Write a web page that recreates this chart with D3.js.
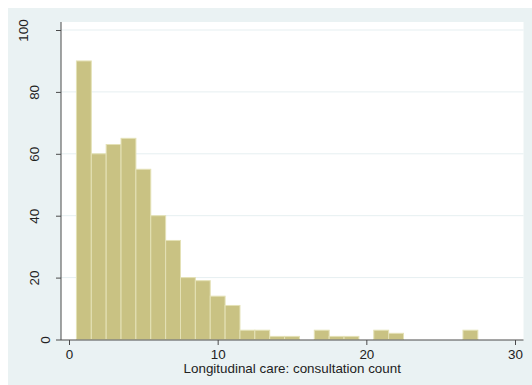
<!DOCTYPE html>
<html>
<head>
<meta charset="utf-8">
<script src="https://cdn.jsdelivr.net/npm/d3@7"></script>
<style>
  body { margin: 0; background: #fff; }
  text { font-family: "Liberation Sans", Arial, sans-serif; }
</style>
</head>
<body>
<div id="chart"></div>
<script>
// bin centres (consultation count) and frequencies
const binCentres = [1, 2, 3, 4, 5, 6, 7, 8, 9, 10, 11, 12, 13, 14, 15, 16, 17, 18, 19, 20, 21, 22, 23, 24, 25, 26, 27];
const frequencies = [90, 60, 63, 65, 55, 40, 32, 20, 19, 14, 11, 3, 3, 1, 1, 0, 3, 1, 1, 0, 3, 2, 0, 0, 0, 0, 3];
const xTicks = [0, 10, 20, 30];
const yTicks = [0, 20, 40, 60, 80, 100];
const xTitle = "Longitudinal care: consultation count";
const binWidth = 1;

const W = 532, H = 385;
const plot = { left: 61, right: 523.5, top: 22, bottom: 340 };

const svg = d3.select("#chart").append("svg")
  .attr("width", W).attr("height", H);

// outer (graph) background
svg.append("rect").attr("x", 8).attr("y", 8).attr("width", W - 8).attr("height", H - 8)
  .attr("fill", "#eaf2f3");
// plot region
svg.append("rect").attr("x", plot.left).attr("y", plot.top)
  .attr("width", plot.right - plot.left).attr("height", plot.bottom - plot.top)
  .attr("fill", "#fff");

const x = d3.scaleLinear().domain([0, 30]).range([69, 515]);
const y = d3.scaleLinear().domain([0, 100]).range([339.5, 30]);

// grid lines
svg.append("g").selectAll("line")
  .data(yTicks.filter(d => d > 0))
  .enter().append("line")
  .attr("x1", plot.left).attr("x2", plot.right)
  .attr("y1", d => y(d)).attr("y2", d => y(d))
  .attr("stroke", "#e6eff1").attr("stroke-width", 1);

// bars
const data = binCentres.map((c, i) => ({ c: c, n: frequencies[i] })).filter(d => d.n > 0);
svg.append("g").selectAll("rect")
  .data(data)
  .enter().append("rect")
  .attr("x", d => x(d.c - binWidth / 2))
  .attr("width", d => x(d.c + binWidth / 2) - x(d.c - binWidth / 2))
  .attr("y", d => y(d.n))
  .attr("height", d => y(0) - y(d.n))
  .attr("fill", "#c9c283")
  .attr("stroke", "#e4e1b6")
  .attr("stroke-width", 1);

// y axis
const yAxis = svg.append("g")
  .attr("transform", "translate(" + plot.left + ",0)")
  .call(d3.axisLeft(y).tickValues(yTicks).tickSize(5).tickSizeOuter(0).tickPadding(0));
yAxis.select(".domain").attr("d", "M0," + plot.top + "V" + plot.bottom);
yAxis.selectAll("text")
  .attr("x", null).attr("dy", null)
  .attr("text-anchor", "middle")
  .attr("dominant-baseline", "central")
  .attr("transform", d => "translate(" + (-5 - 10.7 * String(d).length) + ",0) rotate(-90)");

// x axis
const xAxis = svg.append("g")
  .attr("transform", "translate(0," + plot.bottom + ")")
  .call(d3.axisBottom(x).tickValues(xTicks).tickSize(5).tickSizeOuter(0).tickPadding(0));
xAxis.select(".domain").attr("d", "M" + plot.left + ",0H" + plot.right);
xAxis.selectAll("text").attr("dy", null).attr("y", 19);

svg.selectAll(".domain, .tick line").attr("stroke", "#4a4a4a");
svg.selectAll(".tick text").attr("fill", "#222").style("font-size", "13.4px")
  .style("font-family", "Liberation Sans, Arial, sans-serif");

// x title
svg.append("text")
  .attr("x", (plot.left + plot.right) / 2).attr("y", 373)
  .attr("text-anchor", "middle")
  .attr("fill", "#222")
  .style("font-size", "13.4px")
  .text(xTitle);
</script>
</body>
</html>
